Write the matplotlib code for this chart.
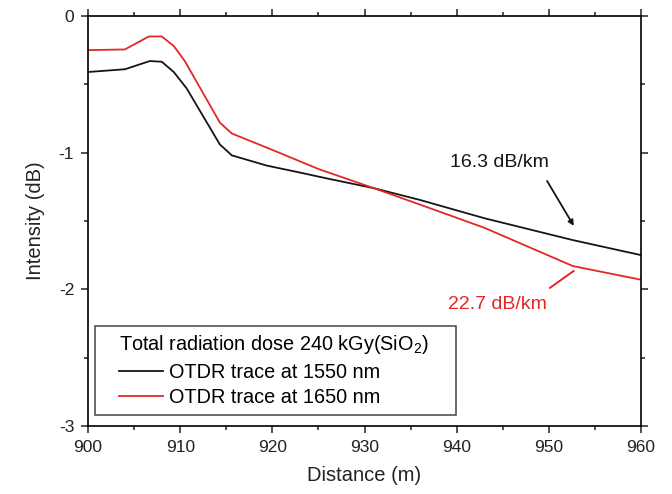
import matplotlib.pyplot as plt
from matplotlib.patches import Rectangle
from matplotlib.ticker import MultipleLocator

plt.rcParams['font.family'] = ['Liberation Sans', 'DejaVu Sans']
plt.rcParams['axes.unicode_minus'] = False
plt.rcParams['mathtext.fontset'] = 'custom'
plt.rcParams['mathtext.rm'] = 'Liberation Sans'

# OTDR traces
dist_1550 = [900, 904, 906.7, 908, 909.3, 910.7, 914.3, 915.6, 919.4, 923, 926, 931, 936, 943, 952.6, 960]
int_1550 = [-0.41, -0.39, -0.33, -0.335, -0.41, -0.53, -0.94, -1.02, -1.095, -1.146, -1.19, -1.26, -1.346, -1.48, -1.64, -1.75]

dist_1650 = [900, 904, 906.6, 908, 909.3, 910.5, 914.3, 915.6, 920, 925, 931, 936, 943, 952.6, 960]
int_1650 = [-0.25, -0.245, -0.15, -0.15, -0.22, -0.33, -0.78, -0.86, -0.98, -1.12, -1.26, -1.38, -1.55, -1.83, -1.93]

legend_title = 'Total radiation dose 240 kGy(SiO$_\\mathregular{2}$)'
labels = ['OTDR trace at 1550 nm', 'OTDR trace at 1650 nm']
black = '#151515'
red = '#e3262a'

fig = plt.figure(figsize=(6.72, 4.94), dpi=100)
ax = fig.add_axes([0.131, 0.1377, 0.823, 0.830])

ax.plot(dist_1550, int_1550, color=black, lw=1.3, label=labels[0])
ax.plot(dist_1650, int_1650, color=red, lw=1.3, label=labels[1])

ax.set_xlim(900, 960)
ax.set_ylim(-3, 0)
ax.xaxis.set_major_locator(MultipleLocator(10))
ax.xaxis.set_minor_locator(MultipleLocator(5))
ax.yaxis.set_major_locator(MultipleLocator(1))
ax.yaxis.set_minor_locator(MultipleLocator(0.5))
ax.tick_params(which='both', direction='out', top=True, right=True,
               labeltop=False, labelright=False, labelsize=12.5, colors='#222222', pad=5)
ax.tick_params(which='major', length=5, width=1.1)
ax.tick_params(which='minor', length=3, width=1.1)
for s in ax.spines.values():
    s.set_linewidth(1.2)

ax.set_xlabel('Distance (m)', fontsize=14.5, labelpad=8, color='#222222')
ax.set_ylabel('Intensity (dB)', fontsize=14.5, labelpad=10, color='#222222')

# slope annotations
ax.text(944.6, -1.075, '16.3 dB/km', fontsize=14, color=black, ha='center', va='center')
ax.annotate('', xy=(952.7, -1.536), xytext=(949.8, -1.207),
            arrowprops=dict(arrowstyle='-|>', color=black, lw=1.3,
                            mutation_scale=8, shrinkA=0, shrinkB=0))
ax.text(944.4, -2.11, '22.7 dB/km', fontsize=14, color=red, ha='center', va='center')
ax.annotate('', xy=(952.7, -1.865), xytext=(950.1, -1.99),
            arrowprops=dict(arrowstyle='-', color=red, lw=1.4, shrinkA=0, shrinkB=0))

# legend box drawn separately so the inner padding can be wide
ax.add_patch(Rectangle((0.0127, 0.0268), 0.653, 0.217, transform=ax.transAxes,
                       facecolor='white', edgecolor='#444444', lw=1.1, zorder=3))
leg = ax.legend(title=legend_title, loc='upper left', bbox_to_anchor=(0.056, 0.226),
                borderaxespad=0, borderpad=0, frameon=False,
                fontsize=14.3, title_fontsize=14.3, handlelength=2.2, handletextpad=0.3,
                alignment='left', labelspacing=0.33)
leg.set_zorder(4)

fig.savefig('out.png', dpi=100)
